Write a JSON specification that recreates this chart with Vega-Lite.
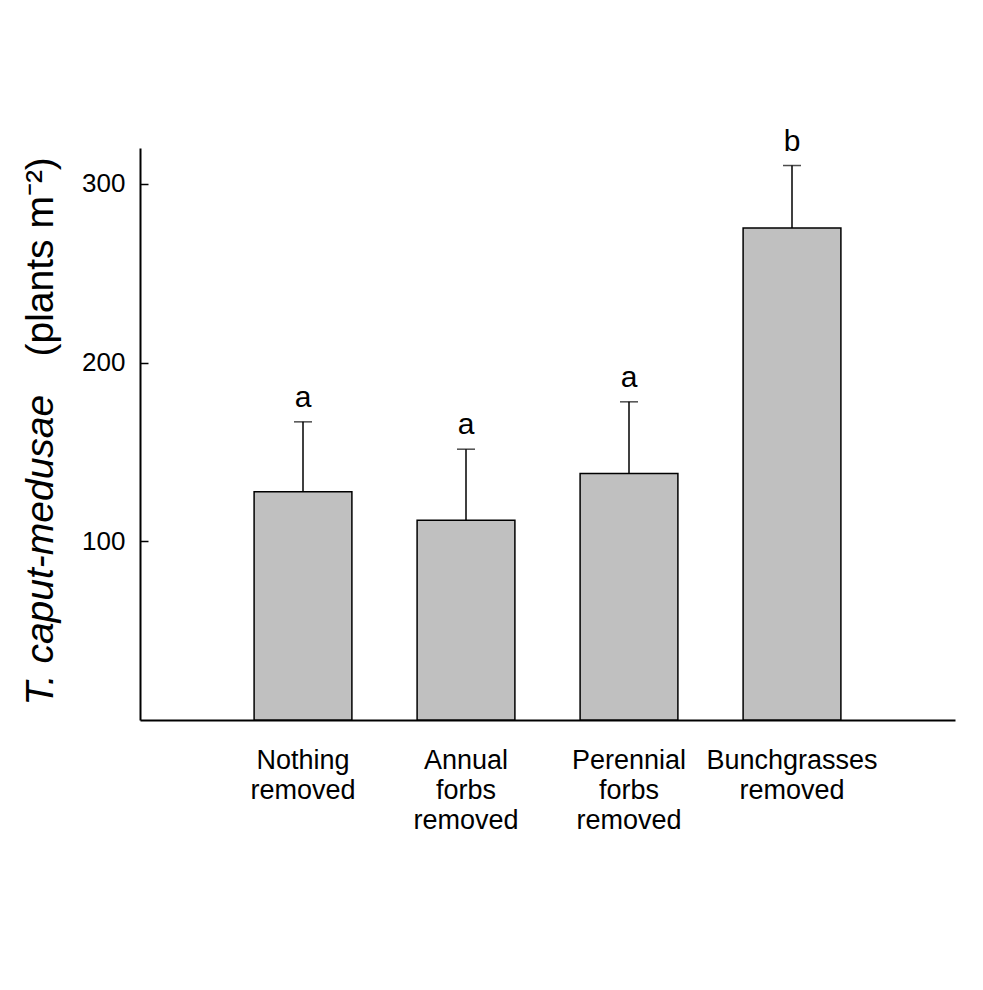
{
  "$schema": "https://vega.github.io/schema/vega-lite/v6.json",
  "width": 815,
  "height": 572,
  "autosize": {"type": "none"},
  "padding": {"left": 140, "top": 148, "right": 28, "bottom": 270},
  "background": "white",
  "config": {"view": {"stroke": null}, "font": "Liberation Sans"},
  "data": {
    "values": [
      {"treatment": "Nothing|removed", "mean": 127.7, "upper": 166.8, "group": "a"},
      {"treatment": "Annual|forbs|removed", "mean": 111.8, "upper": 151.5, "group": "a"},
      {"treatment": "Perennial|forbs|removed", "mean": 137.9, "upper": 178.0, "group": "a"},
      {"treatment": "Bunchgrasses|removed", "mean": 275.3, "upper": 310.2, "group": "b"}
    ]
  },
  "encoding": {
    "x": {
      "field": "treatment",
      "type": "nominal",
      "sort": null,
      "scale": {"paddingInner": 0.4, "paddingOuter": 0.7},
      "axis": {
        "title": null,
        "labelExpr": "split(datum.value, '|')",
        "labelAngle": 0,
        "labelFont": "Liberation Sans",
        "labelFontSize": 27,
        "labelLineHeight": 30,
        "labelBaseline": "top",
        "labelAlign": "center",
        "labelPadding": 27,
        "labelColor": "black",
        "ticks": false,
        "domainColor": "black",
        "domainWidth": 2,
        "grid": false
      }
    }
  },
  "layer": [
    {
      "mark": {"type": "bar", "fill": "#c0c0c0", "stroke": "black", "strokeWidth": 1.5},
      "encoding": {
        "y": {
          "field": "mean",
          "type": "quantitative",
          "scale": {"domain": [0, 320], "nice": false},
          "axis": {
            "values": [100, 200, 300],
            "grid": false,
            "tickSize": -8,
            "tickWidth": 1.5,
            "tickColor": "black",
            "domainColor": "black",
            "domainWidth": 2,
            "labelFont": "Liberation Sans",
            "labelFontSize": 26,
            "labelColor": "black",
            "labelPadding": 23,
            "title": "T. caput-medusae",
            "titleFont": "Liberation Sans",
            "titleFontSize": 39,
            "titleFontStyle": "italic",
            "titleFontWeight": "normal",
            "titleColor": "black",
            "titleAngle": 270,
            "titleAlign": "left",
            "titleBaseline": "alphabetic",
            "titleX": -88,
            "titleY": 557
          }
        }
      }
    },
    {
      "mark": {"type": "rule", "color": "black", "strokeWidth": 1.5},
      "encoding": {
        "y": {
          "field": "mean",
          "type": "quantitative",
          "axis": {
            "orient": "left",
            "labels": false,
            "ticks": false,
            "domain": false,
            "grid": false,
            "title": "(plants m⁻²)",
            "titleFont": "Liberation Sans",
            "titleFontSize": 39,
            "titleFontStyle": "normal",
            "titleFontWeight": "normal",
            "titleColor": "black",
            "titleAngle": 270,
            "titleAlign": "left",
            "titleBaseline": "alphabetic",
            "titleX": -88,
            "titleY": 208
          }
        },
        "y2": {"field": "upper"}
      }
    },
    {
      "mark": {"type": "tick", "color": "black", "size": 18, "thickness": 1.5},
      "encoding": {
        "y": {"field": "upper", "type": "quantitative", "axis": null}
      }
    },
    {
      "mark": {"type": "text", "fontSize": 30, "font": "Liberation Sans", "color": "black", "baseline": "alphabetic", "dy": -15},
      "encoding": {
        "y": {"field": "upper", "type": "quantitative", "axis": null},
        "text": {"field": "group"}
      }
    }
  ],
  "resolve": {"axis": {"y": "independent"}}
}
